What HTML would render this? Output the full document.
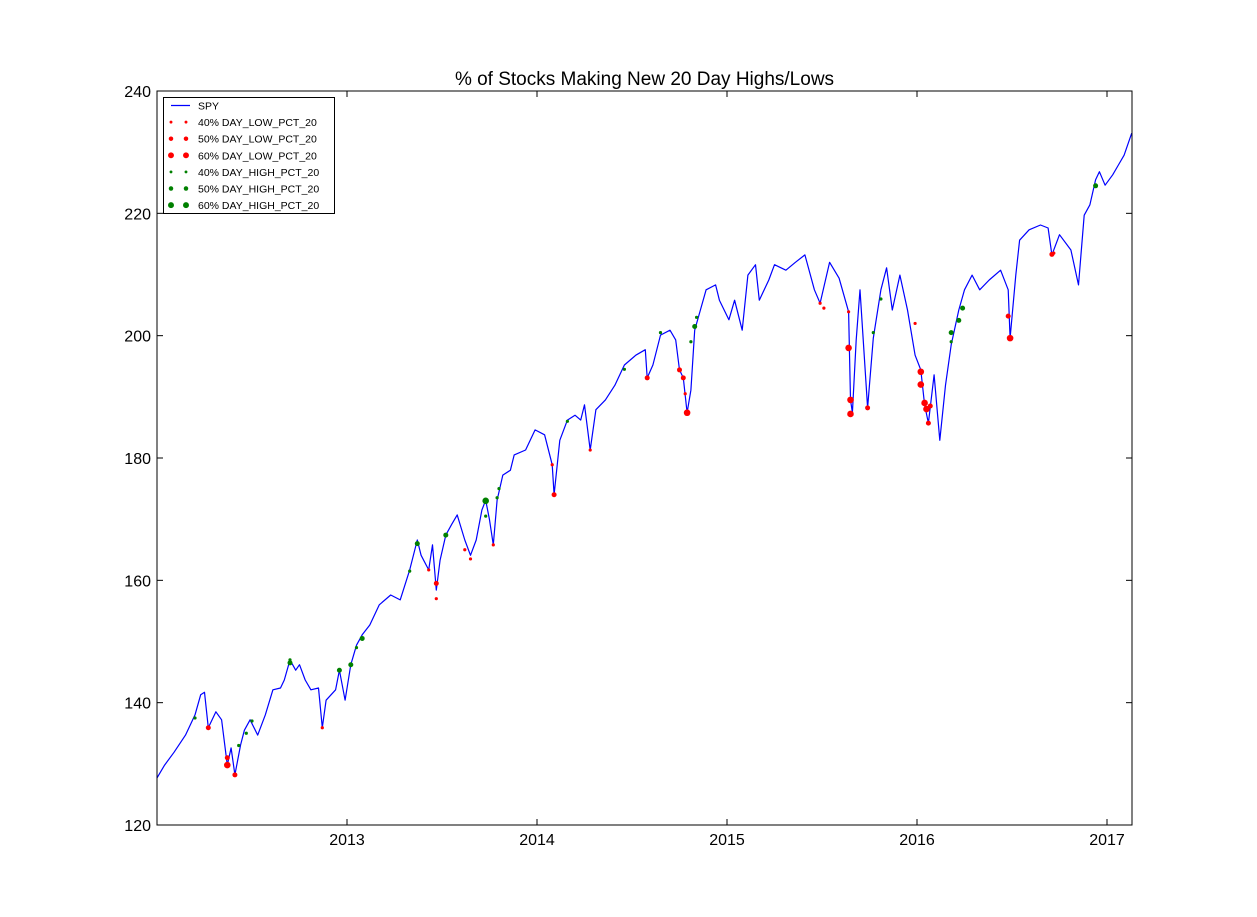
<!DOCTYPE html>
<html><head><meta charset="utf-8">
<style>
html,body{margin:0;padding:0;background:#fff;}
svg{display:block;font-family:"Liberation Sans","DejaVu Sans",sans-serif;}
</style></head>
<body>
<svg id="chart" width="1257" height="917"></svg>
<script>
const spyDates=[2012.00,2012.04,2012.09,2012.15,2012.20,2012.23,2012.25,2012.27,2012.31,2012.34,2012.37,2012.39,2012.41,2012.44,2012.46,2012.49,2012.53,2012.57,2012.61,2012.65,2012.67,2012.70,2012.73,2012.75,2012.78,2012.81,2012.85,2012.87,2012.89,2012.94,2012.96,2012.99,2013.02,2013.05,2013.08,2013.12,2013.17,2013.23,2013.28,2013.33,2013.37,2013.39,2013.43,2013.45,2013.47,2013.49,2013.52,2013.55,2013.58,2013.62,2013.65,2013.68,2013.71,2013.73,2013.75,2013.77,2013.79,2013.82,2013.86,2013.88,2013.94,2013.99,2014.04,2014.08,2014.09,2014.12,2014.16,2014.20,2014.23,2014.25,2014.28,2014.31,2014.36,2014.41,2014.46,2014.52,2014.57,2014.58,2014.61,2014.65,2014.70,2014.73,2014.75,2014.77,2014.79,2014.81,2014.83,2014.86,2014.89,2014.94,2014.96,2015.01,2015.04,2015.08,2015.11,2015.15,2015.17,2015.22,2015.25,2015.31,2015.36,2015.41,2015.46,2015.49,2015.54,2015.59,2015.64,2015.65,2015.66,2015.68,2015.70,2015.74,2015.77,2015.81,2015.84,2015.87,2015.91,2015.95,2015.99,2016.02,2016.04,2016.06,2016.09,2016.12,2016.15,2016.18,2016.22,2016.25,2016.29,2016.33,2016.38,2016.44,2016.48,2016.49,2016.52,2016.54,2016.59,2016.65,2016.69,2016.71,2016.75,2016.81,2016.85,2016.88,2016.91,2016.94,2016.96,2016.99,2017.03,2017.06,2017.09,2017.13];
const spyValues=[127.7,129.8,131.9,134.7,138.0,141.3,141.7,135.9,138.5,137.2,129.8,132.6,128.2,133.1,135.5,137.2,134.7,138.0,142.1,142.4,143.7,147.0,145.3,146.2,143.7,142.1,142.4,135.9,140.4,142.1,145.3,140.4,146.2,149.4,151.1,152.7,156.0,157.6,156.8,161.7,166.6,164.1,161.7,165.8,158.4,163.3,167.4,169.1,170.7,166.6,164.1,166.6,171.5,173.1,169.9,165.8,173.1,177.2,178.0,180.5,181.3,184.6,183.8,178.9,174.0,182.9,186.2,187.0,186.2,188.7,181.3,187.9,189.5,191.9,195.2,196.8,197.7,193.1,195.2,200.1,200.9,199.3,194.4,193.1,187.4,191.1,200.9,204.2,207.5,208.3,205.8,202.6,205.8,200.9,209.9,211.6,205.8,209.1,211.6,210.7,212.0,213.2,207.5,205.3,212.0,209.4,203.9,189.5,187.4,199.3,207.5,188.2,199.6,207.5,211.1,204.2,209.9,204.2,196.8,194.4,188.7,185.7,193.6,182.9,191.9,198.5,204.2,207.5,209.9,207.5,209.1,210.7,207.5,199.6,209.9,215.6,217.3,218.1,217.6,213.2,216.5,214.0,208.3,219.7,221.4,225.5,226.8,224.6,226.3,227.9,229.5,233.1];
const lowDates=[2012.27,2012.37,2012.37,2012.41,2012.87,2013.43,2013.47,2013.47,2013.62,2013.65,2013.77,2014.08,2014.09,2014.28,2014.58,2014.75,2014.77,2014.78,2014.79,2015.49,2015.51,2015.64,2015.64,2015.65,2015.65,2015.74,2015.99,2016.02,2016.02,2016.04,2016.05,2016.06,2016.07,2016.48,2016.49,2016.71,2016.72];
const lowValues=[135.9,129.8,131.0,128.2,135.9,161.7,159.5,157.0,165.0,163.5,165.8,178.9,174.0,181.3,193.1,194.4,193.1,190.5,187.4,205.3,204.5,203.9,198.0,189.5,187.2,188.2,202.0,194.1,192.0,189.0,188.0,185.7,188.5,203.2,199.6,213.3,213.5];
const lowLevels=[50,60,50,50,40,40,50,40,40,40,40,40,50,40,50,50,50,40,60,40,40,40,60,60,60,50,40,60,60,60,60,50,50,50,60,50,40];
const highDates=[2012.20,2012.43,2012.47,2012.50,2012.70,2012.70,2012.96,2013.02,2013.05,2013.08,2013.33,2013.37,2013.52,2013.73,2013.73,2013.79,2013.80,2014.16,2014.46,2014.65,2014.81,2014.83,2014.84,2015.77,2015.81,2016.18,2016.18,2016.22,2016.24,2016.94];
const highValues=[137.5,133.0,135.0,137.0,147.0,146.5,145.3,146.2,149.0,150.5,161.5,166.0,167.4,173.0,170.5,173.5,175.0,186.0,194.5,200.5,199.0,201.5,203.0,200.5,206.0,199.0,200.5,202.5,204.5,224.5];
const highLevels=[40,40,40,40,40,50,50,50,40,50,40,50,50,60,40,40,40,40,40,40,40,50,40,40,40,40,50,50,50,50];
const yTicks=[120,140,160,180,200,220,240];
const xTicks=[2013,2014,2015,2016,2017];
const legendLabels=["SPY","40% DAY_LOW_PCT_20","50% DAY_LOW_PCT_20","60% DAY_LOW_PCT_20","40% DAY_HIGH_PCT_20","50% DAY_HIGH_PCT_20","60% DAY_HIGH_PCT_20"];

const L=157,R=1132,T=91,B=825;
const X0=2012.0,X1=2017.1316,Y0=120,Y1=240;
const sx=d=>L+(d-X0)/(X1-X0)*(R-L);
const sy=v=>B-(v-Y0)/(Y1-Y0)*(B-T);
const rad={40:1.6,50:2.5,60:3.3};
const NS="http://www.w3.org/2000/svg";
const svg=document.getElementById('chart');
function mk(tag,attrs,parent){const e=document.createElementNS(NS,tag);for(const k in attrs)e.setAttribute(k,attrs[k]);(parent||svg).appendChild(e);return e;}

const title=mk('text',{x:(L+R)/2,y:85,'text-anchor':'middle','font-size':19});
title.textContent='% of Stocks Making New 20 Day Highs/Lows';



const g=mk('g',{});



let d='';
spyDates.forEach((dt,i)=>{d+=(i?'L':'M')+sx(dt).toFixed(1)+','+sy(spyValues[i]).toFixed(1);});
const line=mk('path',{d:d,fill:'none',stroke:'#0000ff','stroke-width':1.2,'stroke-linejoin':'round'},g);



lowDates.forEach((dt,i)=>{
  const c=mk('circle',{cx:sx(dt),cy:sy(lowValues[i]),r:rad[lowLevels[i]],fill:'#ff0000'},g);
  
  
});
highDates.forEach((dt,i)=>{
  const c=mk('circle',{cx:sx(dt),cy:sy(highValues[i]),r:rad[highLevels[i]],fill:'#008000'},g);
  
  
});

const frame=mk('rect',{x:L,y:T,width:R-L,height:B-T,fill:'none',stroke:'#000','stroke-width':1});



yTicks.forEach(v=>{
  const y=sy(v);
  mk('line',{x1:L,x2:L+6,y1:y,y2:y,stroke:'#000'});
  mk('line',{x1:R,x2:R-6,y1:y,y2:y,stroke:'#000'});
  const t=mk('text',{x:L-6,y:y+6,'text-anchor':'end','font-size':16});
  t.textContent=v;
  
  
});
xTicks.forEach(v=>{
  const x=sx(v);
  mk('line',{x1:x,x2:x,y1:B,y2:B-6,stroke:'#000'});
  mk('line',{x1:x,x2:x,y1:T,y2:T+6,stroke:'#000'});
  const t=mk('text',{x:x,y:B+20,'text-anchor':'middle','font-size':16});
  t.textContent=v;
  
  
});

const lg=mk('g',{});


mk('rect',{x:163.5,y:97.5,width:171,height:116,fill:'#fff',stroke:'#000','stroke-width':1},lg);
const lcolors=['#0000ff','#ff0000','#ff0000','#ff0000','#008000','#008000','#008000'];
const lsizes=[0,40,50,60,40,50,60];
legendLabels.forEach((lab,i)=>{
  const y=105.5+i*16.6;
  if(i===0){mk('line',{x1:171,x2:190,y1:y,y2:y,stroke:'#0000ff','stroke-width':1.2},lg);}
  else{
    mk('circle',{cx:171,cy:y,r:rad[lsizes[i]]*0.9,fill:lcolors[i]},lg);
    mk('circle',{cx:186,cy:y,r:rad[lsizes[i]]*0.9,fill:lcolors[i]},lg);
  }
  const t=mk('text',{x:198,y:y+4,'font-size':10.5},lg);
  t.textContent=lab;
  
  
});
</script>
</body></html>
